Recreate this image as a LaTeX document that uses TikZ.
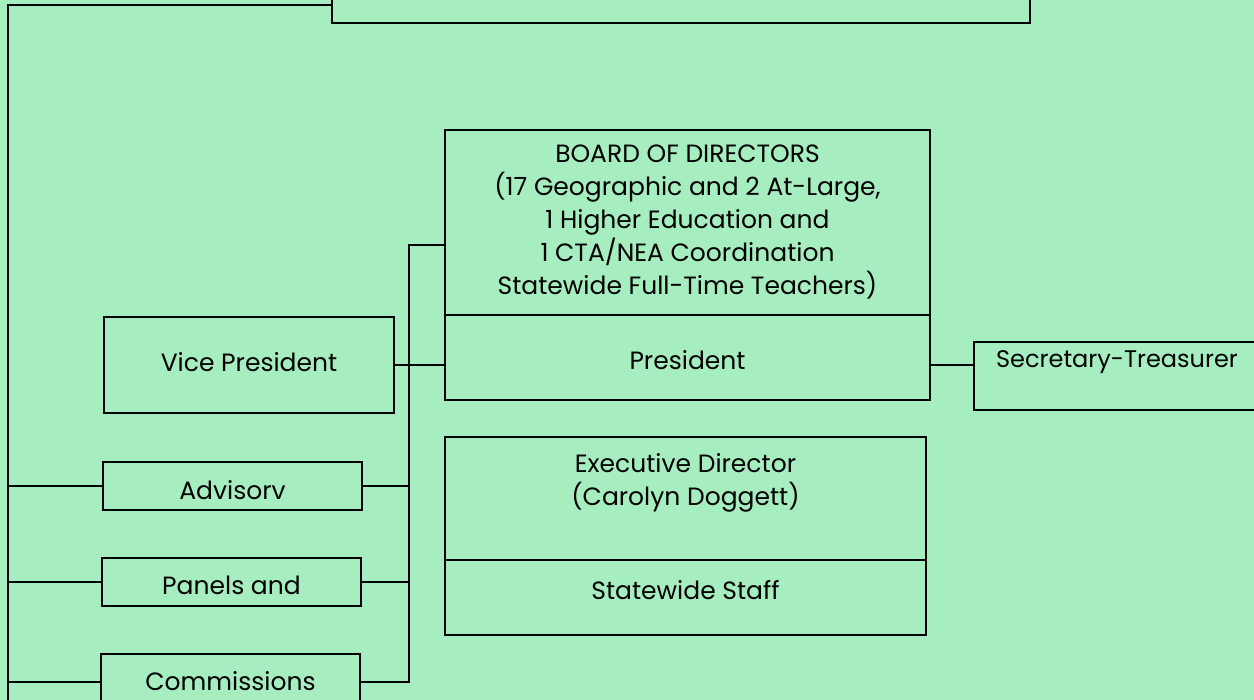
\documentclass[tikz,border=0pt]{standalone}
\usepackage{fontspec}
\setmainfont{Poppins}
\definecolor{bg}{RGB}{166,238,192}
\begin{document}
\begin{tikzpicture}[x=1pt,y=-1pt,
  box/.style={draw, line width=1.3pt, inner sep=0pt, align=center, font=\fontsize{25}{33}\selectfont},
  txt/.style={inner sep=0pt, align=center, font=\fontsize{25}{33}\selectfont},
  wire/.style={line width=1.3pt}]
\useasboundingbox (0,0) rectangle (1254,700);
\fill[bg] (0,0) rectangle (1254,700);
\clip (0,0) rectangle (1254,700);
% boxes
\node[box, minimum width=698pt, minimum height=83pt] (top) at (681,-18.5) {};
\node[box, minimum width=485pt, minimum height=185pt] (board) at (687.5,222.5) {};
\node[txt] (boardt) at (687.5,222) {BOARD OF DIRECTORS\\(17 Geographic and 2 At-Large,\\1 Higher Education and\\1 CTA/NEA Coordination\\Statewide Full-Time Teachers)};
\node[box, minimum width=485pt, minimum height=85pt] (pres) at (687.5,357.5) {};
\node[txt] (prest) at (687.5,360) {President};
\node[box, minimum width=290pt, minimum height=96pt] (vp) at (249,365) {};
\node[txt] (vpt) at (249,362) {Vice President};
\node[box, minimum width=259pt, minimum height=48pt] (adv) at (232.5,486) {};
\node[txt] (advt) at (232.5,490) {Advisorv};
\node[box, minimum width=259pt, minimum height=48pt] (pan) at (231.5,582) {};
\node[txt] (pant) at (231.5,585) {Panels and};
\node[box, minimum width=259pt, minimum height=56pt] (com) at (230.5,682) {};
\node[txt] (comt) at (230.5,681) {Commissions};
\node[box, minimum width=481pt, minimum height=123pt] (exec) at (685.5,498.5) {};
\node[txt] (exect) at (685.5,483) {Executive Director\\(Carolyn Doggett)};
\node[box, minimum width=481pt, minimum height=75pt] (staff) at (685.5,597.5) {};
\node[txt] (stafft) at (685.5,590) {Statewide Staff};
\node[box, minimum width=301pt, minimum height=68pt] (sec) at (1124.5,376) {};
\node[txt, font=\fontsize{24}{33}\selectfont] (sect) at (1117,362) {Secretary-Treasurer};
% connectors
\coordinate (Ltop) at (8,5);
\coordinate (Btop) at (409,245);
\draw[wire] (top.west |- Ltop) -- (Ltop) -- (8,700);
\draw[wire] (adv.west) -- (adv.west -| Ltop);
\draw[wire] (pan.west) -- (pan.west -| Ltop);
\draw[wire] (com.west) -- (com.west -| Ltop);
\draw[wire] (board.west |- Btop) -- (Btop) -- (Btop |- com.east) -- (com.east);
\draw[wire] (adv.east) -- (adv.east -| Btop);
\draw[wire] (pan.east) -- (pan.east -| Btop);
\draw[wire] (vp.east) -- (vp.east -| pres.west);
\draw[wire] ([yshift=-7.5pt]pres.east) -- ([yshift=-7.5pt]pres.east -| sec.west);
\end{tikzpicture}
\end{document}
